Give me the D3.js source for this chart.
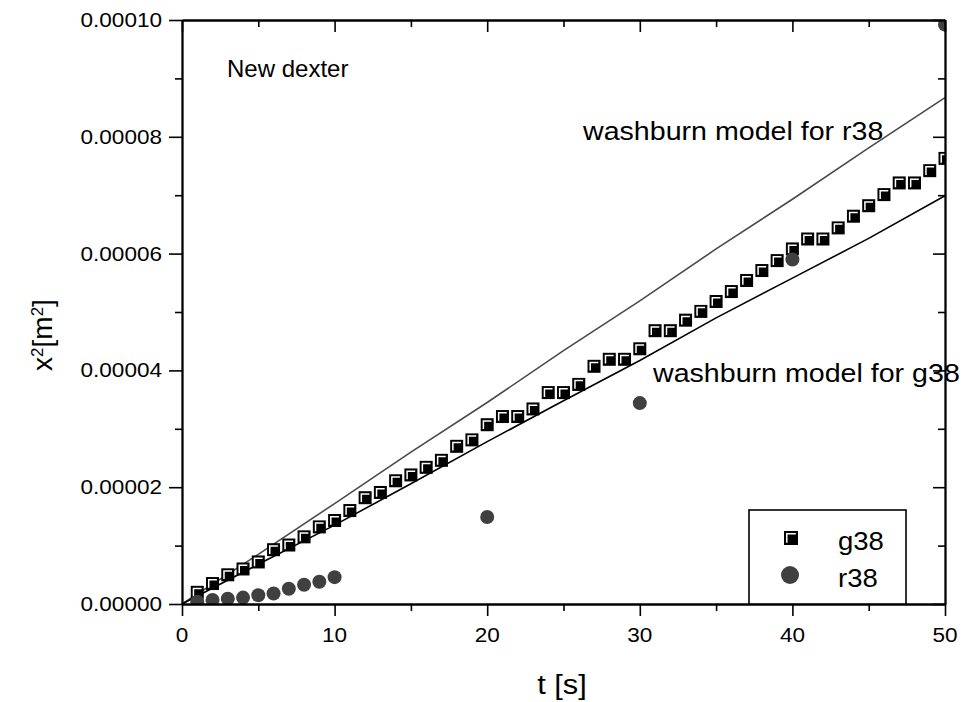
<!DOCTYPE html>
<html lang="en">
<head>
<meta charset="utf-8">
<title>New dexter - washburn</title>
<script src="https://d3js.org/d3.v7.min.js"></script>
<style>
  body { margin: 0; background: #fff; }
  text { font-family: "Liberation Sans", Arial, sans-serif; fill: #000; }
</style>
<script>
  // g38 measured points (t in s, x^2 in m^2)
  const tG38 = [1, 2, 3, 4, 5, 6, 7, 8, 9, 10, 11, 12, 13, 14, 15, 16, 17, 18, 19, 20,
                21, 22, 23, 24, 25, 26, 27, 28, 29, 30, 31, 32, 33, 34, 35, 36, 37, 38, 39, 40,
                41, 42, 43, 44, 45, 46, 47, 48, 49, 50];
  const xG38 = [2.0e-6, 3.5e-6, 5.0e-6, 6.0e-6, 7.2e-6, 9.3e-6, 10.1e-6, 11.5e-6, 13.2e-6, 14.3e-6,
                16.0e-6, 18.2e-6, 19.1e-6, 21.1e-6, 22.1e-6, 23.4e-6, 24.6e-6, 27.0e-6, 28.1e-6, 30.7e-6,
                32.1e-6, 32.1e-6, 33.4e-6, 36.2e-6, 36.2e-6, 37.6e-6, 40.7e-6, 41.9e-6, 41.9e-6, 43.7e-6,
                46.8e-6, 46.8e-6, 48.6e-6, 50.1e-6, 51.8e-6, 53.5e-6, 55.4e-6, 57.1e-6, 58.8e-6, 60.8e-6,
                62.5e-6, 62.5e-6, 64.4e-6, 66.4e-6, 68.2e-6, 70.1e-6, 72.1e-6, 72.1e-6, 74.2e-6, 76.3e-6];

  // r38 measured points
  const tR38 = [1, 2, 3, 4, 5, 6, 7, 8, 9, 10, 20, 30, 40, 50];
  const xR38 = [0.4e-6, 0.7e-6, 0.9e-6, 1.1e-6, 1.5e-6, 1.8e-6, 2.6e-6, 3.3e-6, 3.8e-6, 4.6e-6,
                14.9e-6, 34.4e-6, 59.0e-6, 99.2e-6];

  // washburn model curves
  const tModel = [0, 5, 10, 15, 20, 25, 30, 35, 40, 45, 50];
  const modelR38 = [0, 8.5e-6, 17.2e-6, 26.0e-6, 34.5e-6, 43.4e-6, 51.9e-6, 60.8e-6, 69.3e-6, 78.1e-6, 86.7e-6];
  const modelG38 = [0, 6.8e-6, 13.5e-6, 20.6e-6, 27.8e-6, 34.8e-6, 41.7e-6, 49.0e-6, 55.8e-6, 62.6e-6, 69.9e-6];

  const xTicks = [0, 10, 20, 30, 40, 50];
  const xMinor = [5, 15, 25, 35, 45];
  const yTicks = [0, 0.00002, 0.00004, 0.00006, 0.00008, 0.0001];
  const yMinor = [0.00001, 0.00003, 0.00005, 0.00007, 0.00009];

  const width = 967, height = 702;
  const pLeft = 182, pRight = 945, pTop = 20, pBottom = 604;
  const stretch = 1.1;   // the original lettering is a bit wide
</script>
</head>
<body>
<script>
  const svg = d3.select("body").append("svg")
    .attr("width", width)
    .attr("height", height);

  const xScale = d3.scaleLinear().domain([0, 50]).range([pLeft, pRight]);
  const yScale = d3.scaleLinear().domain([0, 0.0001]).range([pBottom, pTop]);

  // wide text helper
  const label = (x, y, str, size, anchor, sx) =>
    svg.append("text")
      .attr("transform", "translate(" + x + "," + y + ") scale(" + (sx || stretch) + ",1)")
      .attr("text-anchor", anchor || "start")
      .attr("font-size", size + "px")
      .text(str);

  // plot-area clip
  svg.append("clipPath").attr("id", "plot")
    .append("rect")
    .attr("x", pLeft).attr("y", pTop)
    .attr("width", pRight - pLeft).attr("height", pBottom - pTop);

  // model lines
  const line = (vals) => d3.line()
    .x((d, i) => xScale(tModel[i]))
    .y((d) => yScale(d))(vals);

  svg.append("path")
    .attr("d", line(modelR38))
    .attr("fill", "none")
    .attr("stroke", "#4a4a4a")
    .attr("stroke-width", 1.6);

  svg.append("path")
    .attr("d", line(modelG38))
    .attr("fill", "none")
    .attr("stroke", "#000")
    .attr("stroke-width", 1.6);

  const marks = svg.append("g").attr("clip-path", "url(#plot)");

  // g38 squares: black with a white corner highlight
  const sq = 13;
  const squares = marks.selectAll("g.sq")
    .data(tG38)
    .enter()
    .append("g")
    .attr("class", "sq")
    .attr("transform", (d, i) => "translate(" + (xScale(d) - sq / 2) + "," + (yScale(xG38[i]) - sq / 2) + ")");
  squares.append("rect")
    .attr("width", sq).attr("height", sq)
    .attr("fill", "#000");
  squares.append("path")
    .attr("d", "M2.7," + (sq - 2.2) + "V2.7H" + (sq - 2.2))
    .attr("fill", "none")
    .attr("stroke", "#fff")
    .attr("stroke-width", 1.5);

  // r38 circles
  marks.selectAll("circle")
    .data(tR38)
    .enter()
    .append("circle")
    .attr("cx", (d) => xScale(d))
    .attr("cy", (d, i) => yScale(xR38[i]))
    .attr("r", 7)
    .attr("fill", "#404040");

  // axes: ticks only, labels drawn by hand
  const axisG = (axis, tr) => svg.append("g")
    .attr("transform", tr)
    .call(axis)
    .call((g) => g.selectAll("line").attr("stroke", "#000").attr("stroke-width", 1.6))
    .call((g) => g.select(".domain").attr("stroke", "#000").attr("stroke-width", 1.8));

  const fmtNone = () => "";
  axisG(d3.axisBottom(xScale).tickValues(xTicks).tickSize(12).tickSizeOuter(0).tickFormat(fmtNone), "translate(0," + pBottom + ")");
  axisG(d3.axisBottom(xScale).tickValues(xMinor).tickSize(7).tickSizeOuter(0).tickFormat(fmtNone), "translate(0," + pBottom + ")");
  axisG(d3.axisTop(xScale).tickValues(xTicks).tickSize(-12).tickSizeOuter(0).tickFormat(fmtNone), "translate(0," + pTop + ")");
  axisG(d3.axisTop(xScale).tickValues(xMinor).tickSize(-7).tickSizeOuter(0).tickFormat(fmtNone), "translate(0," + pTop + ")");
  axisG(d3.axisLeft(yScale).tickValues(yTicks).tickSize(13).tickSizeOuter(0).tickFormat(fmtNone), "translate(" + pLeft + ",0)");
  axisG(d3.axisLeft(yScale).tickValues(yMinor).tickSize(7).tickSizeOuter(0).tickFormat(fmtNone), "translate(" + pLeft + ",0)");
  axisG(d3.axisRight(yScale).tickValues(yTicks).tickSize(-12).tickSizeOuter(0).tickFormat(fmtNone), "translate(" + pRight + ",0)");
  axisG(d3.axisRight(yScale).tickValues(yMinor).tickSize(-7).tickSizeOuter(0).tickFormat(fmtNone), "translate(" + pRight + ",0)");

  // tick labels
  const yFmt = d3.format(".5f");
  yTicks.forEach((v) => label(162, yScale(v) + 7, yFmt(v), 20.5, "end"));
  xTicks.forEach((v) => label(xScale(v), 642, v, 20.5, "middle"));

  // axis titles
  label(562, 694, "t [s]", 28, "middle");
  const yt = svg.append("text")
    .attr("transform", "translate(52,335) rotate(-90)")
    .attr("text-anchor", "middle")
    .attr("font-size", "28px");
  yt.append("tspan").text("x");
  yt.append("tspan").attr("font-size", "17px").attr("baseline-shift", "super").text("2");
  yt.append("tspan").text("[m");
  yt.append("tspan").attr("font-size", "17px").attr("baseline-shift", "super").text("2");
  yt.append("tspan").text("]");

  // annotations
  label(227, 77, "New dexter", 24, "start", 1.0);
  label(583, 140, "washburn model for r38", 26);
  label(653, 382, "washburn model for g38", 26);

  // legend
  svg.append("rect")
    .attr("x", 749).attr("y", 510)
    .attr("width", 157).attr("height", pBottom - 510)
    .attr("fill", "#fff")
    .attr("stroke", "#000")
    .attr("stroke-width", 1.6);
  const lsq = 14;
  const lg = svg.append("g").attr("transform", "translate(" + (791 - lsq / 2) + "," + (538 - lsq / 2) + ")");
  lg.append("rect").attr("width", lsq).attr("height", lsq).attr("fill", "#000");
  lg.append("path")
    .attr("d", "M2.8," + (lsq - 2.2) + "V2.8H" + (lsq - 2.2))
    .attr("fill", "none").attr("stroke", "#fff").attr("stroke-width", 1.5);
  svg.append("circle").attr("cx", 790).attr("cy", 575).attr("r", 9).attr("fill", "#404040");
  label(838, 550, "g38", 25);
  label(838, 587, "r38", 25);
</script>
</body>
</html>
